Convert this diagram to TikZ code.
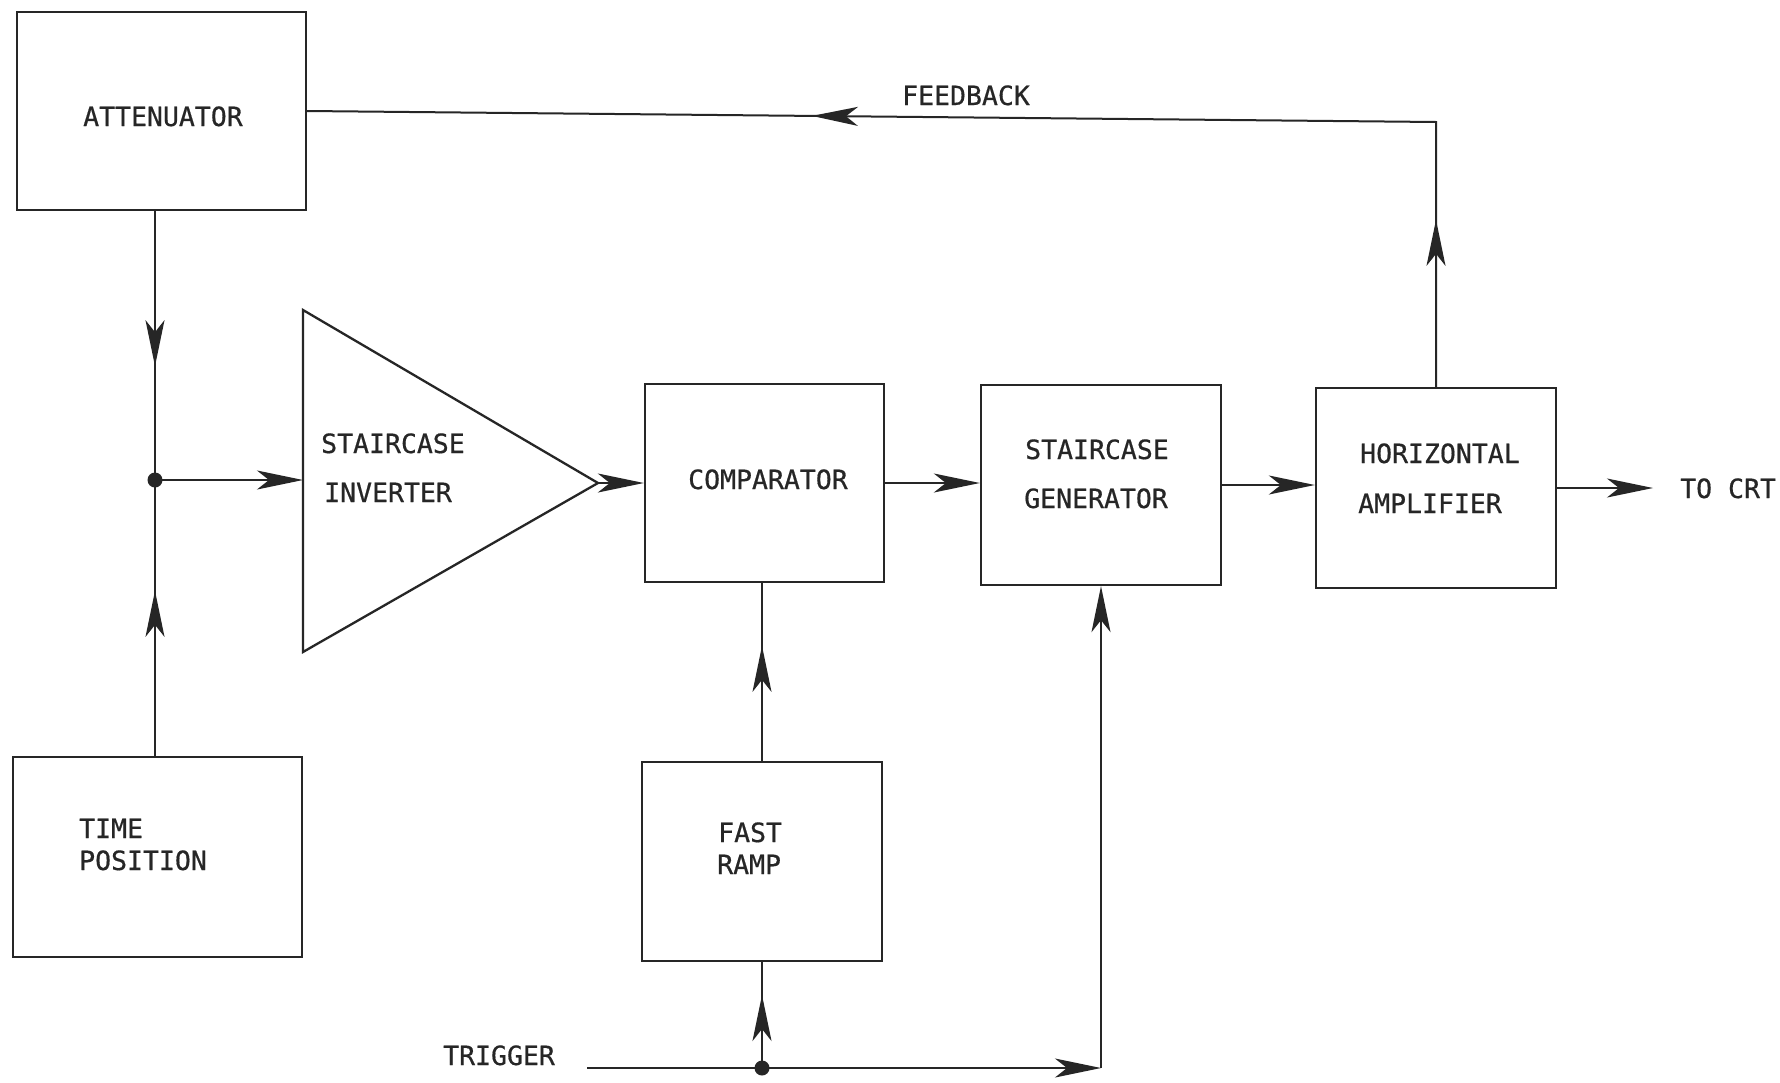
\documentclass[tikz,border=0pt]{standalone}
\usepackage{fontspec}
\newfontfamily\lblfont[FakeBold=0.6]{DejaVu Sans Mono}
\usetikzlibrary{arrows.meta,decorations.markings}
\definecolor{ink}{RGB}{38,38,38}
\tikzset{
  tipshape/.tip={Stealth[length=46pt,width=19pt,inset=12pt]},
  box/.style={draw=ink, line width=2.3pt, rectangle, inner sep=0pt},
  wire/.style={draw=ink, line width=2pt},
  endarrow/.style={wire, -{tipshape}},
  midarrow/.style={wire, postaction={decorate, decoration={markings,
      mark=at position #1 with {\arrow{tipshape}}}}},
  midarrowtwo/.style 2 args={wire, postaction={decorate, decoration={markings,
      mark=at position #1 with {\arrow{tipshape}},
      mark=at position #2 with {\arrow{tipshape}}}}},
  blob/.style={circle, fill=ink, inner sep=0pt, minimum size=15pt},
  lab/.style={inner sep=0pt, anchor=base west, text=ink,
      font=\lblfont\fontsize{26.5pt}{30pt}\selectfont},
}
\begin{document}
\begin{tikzpicture}[x=1pt,y=-1pt]
\useasboundingbox[fill=white] (0,0) rectangle (1780,1082);

% boxes
\node[box, minimum width=289pt, minimum height=198pt] (att) at (161.5,111) {};
\node[box, minimum width=289pt, minimum height=200pt] (tp) at (157.5,857) {};
\node[box, minimum width=239pt, minimum height=198pt] (cmp) at (764.5,483) {};
\node[box, minimum width=240pt, minimum height=200pt] (sg) at (1101,485) {};
\node[box, minimum width=240pt, minimum height=200pt] (ha) at (1436,488) {};
\node[box, minimum width=240pt, minimum height=199pt] (fr) at (762,861.5) {};

% triangle (staircase inverter)
\coordinate (invtop) at (303,310);
\coordinate (invbot) at (303,652);
\coordinate (invout) at (598,483);
\coordinate (invin) at (303,480);
\draw[draw=ink, line width=2.3pt, line join=miter] (invtop) -- (invbot) -- (invout) -- cycle;

% labels
\node[lab] (tatt) at (83,126) {ATTENUATOR};
\node[lab] (tfb) at (902,105) {FEEDBACK};
\node[lab] (tinv1) at (321,453) {STAIRCASE};
\node[lab] (tinv2) at (324,502) {INVERTER};
\node[lab] (tcmp) at (688,489) {COMPARATOR};
\node[lab] (tsg1) at (1025,459) {STAIRCASE};
\node[lab] (tsg2) at (1024,508) {GENERATOR};
\node[lab] (tha1) at (1360,463) {HORIZONTAL};
\node[lab] (tha2) at (1358,513) {AMPLIFIER};
\node[lab] (tcrt) at (1680,498) {TO CRT};
\node[lab] (ttp1) at (79,838) {TIME};
\node[lab] (ttp2) at (79,870) {POSITION};
\node[lab] (tfr1) at (718,842) {FAST};
\node[lab] (tfr2) at (717,874) {RAMP};
\node[lab] (ttrig) at (443,1065) {TRIGGER};

% junctions and free ends
\node[blob] (j) at (155,480) {};
\coordinate (trigstart) at (587,1068);
\node[blob] (tj) at (fr.south |- trigstart) {};
\coordinate (trigcorner) at (sg.south |- trigstart);
\coordinate (fbc) at (ha.north |- 0,122);
\coordinate (crt) at (1653,489);

% connectors
\draw[midarrow=155pt] (j |- att.south) -- (j.center);
\draw[midarrow=165pt] (j |- tp.north) -- (j.center);
\draw[endarrow] (j.center) -- (invin);
\draw[endarrow] (invout) -- (invout -| cmp.west);
\draw[endarrow] (cmp.east) -- (cmp.east -| sg.west);
\draw[endarrow] (sg.east) -- (sg.east -| ha.west);
\draw[endarrow] (ha.east) -- (ha.east -| crt);
\draw[midarrowtwo={167pt}{889pt}, line join=miter] (ha.north) -- (fbc) -- (att.east);
\draw[midarrow=115pt] (fr.north) -- (fr.north |- cmp.south);
\draw[midarrow=73pt] (tj.center) -- (fr.south);
\draw[endarrow] (trigstart) -- (trigcorner);
\draw[endarrow] (trigcorner) -- (sg.south);
\end{tikzpicture}
\end{document}
